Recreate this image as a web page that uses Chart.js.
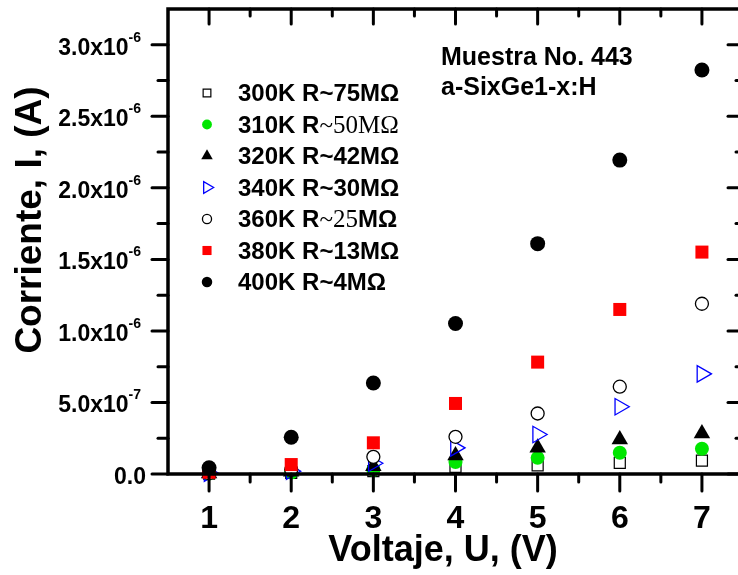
<!DOCTYPE html>
<html>
<head>
<meta charset="utf-8">
<script src="https://cdn.jsdelivr.net/npm/chart.js@4.4.1/dist/chart.umd.min.js"></script>
<style>
  html, body { margin: 0; padding: 0; background: #fff; overflow: hidden; }
  #ivChart { display: block; }
</style>
</head>
<body>
<canvas id="ivChart" width="746" height="575"></canvas>
<script>
// ===== Data (corriente in A, voltaje in V) =====
const voltage = [1, 2, 3, 4, 5, 6, 7];
const i300K = [0.003e-6, 0.008e-6, 0.020e-6, 0.050e-6, 0.060e-6, 0.078e-6, 0.094e-6];
const i310K = [0.003e-6, 0.010e-6, 0.030e-6, 0.083e-6, 0.113e-6, 0.148e-6, 0.176e-6];
const i320K = [0.004e-6, 0.015e-6, 0.055e-6, 0.130e-6, 0.183e-6, 0.241e-6, 0.283e-6];
const i340K = [0.006e-6, 0.020e-6, 0.075e-6, 0.183e-6, 0.276e-6, 0.470e-6, 0.700e-6];
const i360K = [0.005e-6, 0.030e-6, 0.120e-6, 0.260e-6, 0.423e-6, 0.610e-6, 1.190e-6];
const i380K = [0.012e-6, 0.066e-6, 0.218e-6, 0.493e-6, 0.782e-6, 1.150e-6, 1.551e-6];
const i400K = [0.043e-6, 0.257e-6, 0.636e-6, 1.052e-6, 1.610e-6, 2.194e-6, 2.824e-6];

// legend text, split where the original switches to a serif font
const legend300K = [['300K R~75MΩ', 'sans']];
const legend310K = [['310K R', 'sans'], ['~50MΩ', 'serif']];
const legend320K = [['320K R~42MΩ', 'sans']];
const legend340K = [['340K R~30MΩ', 'sans']];
const legend360K = [['360K R', 'sans'], ['~25', 'serif'], ['MΩ', 'sans']];
const legend380K = [['380K R~13MΩ', 'sans']];
const legend400K = [['400K R~4MΩ', 'sans']];

const sampleText = ['Muestra No. 443', 'a-SixGe1-x:H'];
const xTitle = 'Voltaje, U, (V)';
const yTitle = 'Corriente, I, (A)';

// ticks
const xMajorTicks = [1, 2, 3, 4, 5, 6, 7];
const xMinorTicks = [1.5, 2.5, 3.5, 4.5, 5.5, 6.5];
const yMajorTicks = [0, 0.5e-6, 1.0e-6, 1.5e-6, 2.0e-6, 2.5e-6, 3.0e-6];
const yTickMantissa = ['0.0', '5.0x10', '1.0x10', '1.5x10', '2.0x10', '2.5x10', '3.0x10'];
const yTickExponent = ['', '-7', '-6', '-6', '-6', '-6', '-6'];
const yMinorTicks = [0.25e-6, 0.75e-6, 1.25e-6, 1.75e-6, 2.25e-6, 2.75e-6];

const SANS = "'Liberation Sans', Arial, sans-serif";
const SERIF = "'Liberation Serif', 'Times New Roman', serif";

// ===== Series styles =====
const series = [
    { values: i300K, legend: legend300K, style: 'rect', radius: 7.8, rotation: 0, fill: '#ffffff', stroke: '#000000', width: 1.2 },
    { values: i310K, legend: legend310K, style: 'circle', radius: 7, rotation: 0, fill: '#00e600', stroke: '#00e600', width: 0 },
    { values: i320K, legend: legend320K, style: 'triangle', radius: 9.5, rotation: 0, fill: '#000000', stroke: '#000000', width: 0 },
    { values: i340K, legend: legend340K, style: 'triangle', radius: 9.5, rotation: 90, fill: 'rgba(0,0,0,0)', stroke: '#0000ff', width: 1.3 },
    { values: i360K, legend: legend360K, style: 'circle', radius: 6.5, rotation: 0, fill: '#ffffff', stroke: '#000000', width: 1.3 },
    { values: i380K, legend: legend380K, style: 'rect', radius: 9.2, rotation: 0, fill: '#ff0000', stroke: '#ff0000', width: 0 },
    { values: i400K, legend: legend400K, style: 'circle', radius: 7.5, rotation: 0, fill: '#000000', stroke: '#000000', width: 0 }
];

const datasets = series.map((s, i) => ({
    label: s.legend.map(p => p[0]).join(''),
    data: voltage.map((v, k) => ({ x: v, y: s.values[k] })),
    pointStyle: s.style,
    pointRadius: s.radius,
    pointRotation: s.rotation,
    pointBackgroundColor: s.fill,
    pointBorderColor: s.stroke,
    pointBorderWidth: s.width,
    showLine: false,
    clip: false,
    order: series.length - i
}));

// ===== Frame, ticks, labels and legend =====
const framePlugin = {
    id: 'framePlugin',
    afterDraw(chart) {
        const { ctx, chartArea: a, scales: { x, y } } = chart;
        const line = (x1, y1, x2, y2) => {
            ctx.beginPath();
            ctx.moveTo(x1, y1);
            ctx.lineTo(x2, y2);
            ctx.stroke();
        };
        ctx.save();
        ctx.strokeStyle = '#000';
        ctx.fillStyle = '#000';

        ctx.lineWidth = 3.5;
        ctx.strokeRect(a.left, a.top, a.right - a.left, a.bottom - a.top);

        ctx.lineWidth = 3;
        ctx.lineCap = 'round';
        xMajorTicks.forEach(v => {
            const px = x.getPixelForValue(v);
            line(px, a.bottom, px, a.bottom + 17);
            line(px, a.top, px, a.top + 15);
        });
        xMinorTicks.forEach(v => {
            const px = x.getPixelForValue(v);
            line(px, a.bottom, px, a.bottom + 8);
            line(px, a.top, px, a.top + 7);
        });
        yMajorTicks.forEach(v => {
            const py = y.getPixelForValue(v);
            line(a.left - 16, py, a.left, py);
            line(a.right - 15, py, a.right, py);
        });
        yMinorTicks.forEach(v => {
            const py = y.getPixelForValue(v);
            line(a.left - 10, py, a.left, py);
            line(a.right - 7, py, a.right, py);
        });

        // x tick labels
        ctx.textAlign = 'center';
        ctx.textBaseline = 'alphabetic';
        ctx.font = `bold 32px ${SANS}`;
        xMajorTicks.forEach(v => ctx.fillText(String(v), x.getPixelForValue(v), 528));

        // y tick labels with superscript exponent
        yMajorTicks.forEach((v, i) => {
            const py = y.getPixelForValue(v);
            ctx.textAlign = 'right';
            if (yTickExponent[i]) {
                ctx.font = `bold 14px ${SANS}`;
                const ew = ctx.measureText(yTickExponent[i]).width;
                ctx.fillText(yTickExponent[i], 141, py - 3);
                ctx.font = `bold 23px ${SANS}`;
                ctx.fillText(yTickMantissa[i], 141 - ew, py + 10);
            } else {
                ctx.font = `bold 23px ${SANS}`;
                ctx.fillText(yTickMantissa[i], 146, py + 10);
            }
        });

        // axis titles
        ctx.textAlign = 'center';
        ctx.font = `bold 36px ${SANS}`;
        ctx.fillText(xTitle, 443, 561);
        ctx.save();
        ctx.translate(41, 220);
        ctx.rotate(-Math.PI / 2);
        ctx.font = `bold 37px ${SANS}`;
        ctx.fillText(yTitle, 0, 0);
        ctx.restore();

        // sample annotation
        ctx.textAlign = 'left';
        ctx.font = `bold 25px ${SANS}`;
        ctx.fillText(sampleText[0], 441, 65);
        ctx.fillText(sampleText[1], 441, 95);

        // legend
        series.forEach((s, i) => {
            const cy = 93 + i * 31.5;
            ctx.save();
            ctx.fillStyle = s.fill;
            ctx.strokeStyle = s.stroke;
            ctx.lineWidth = s.width;
            Chart.helpers.drawPoint(ctx, {
                pointStyle: s.style,
                radius: s.radius * 0.7,
                rotation: s.rotation,
                borderWidth: s.width
            }, 207, cy);
            ctx.restore();

            let tx = 238;
            s.legend.forEach(([text, face]) => {
                ctx.font = face === 'serif' ? `25px ${SERIF}` : `bold 24px ${SANS}`;
                ctx.fillText(text, tx, cy + 8);
                tx += ctx.measureText(text).width;
            });
        });

        ctx.restore();
    }
};

// ===== Chart =====
new Chart(document.getElementById('ivChart'), {
    type: 'scatter',
    data: { datasets },
    options: {
        responsive: false,
        animation: false,
        layout: { autoPadding: false, padding: { left: 168, right: 3, top: 9, bottom: 101 } },
        plugins: {
            legend: { display: false },
            tooltip: { enabled: false }
        },
        scales: {
            x: { type: 'linear', min: 0.5, max: 7.5, display: false },
            y: { type: 'linear', min: 0, max: 3.25e-6, display: false }
        }
    },
    plugins: [framePlugin]
});
</script>
</body>
</html>
